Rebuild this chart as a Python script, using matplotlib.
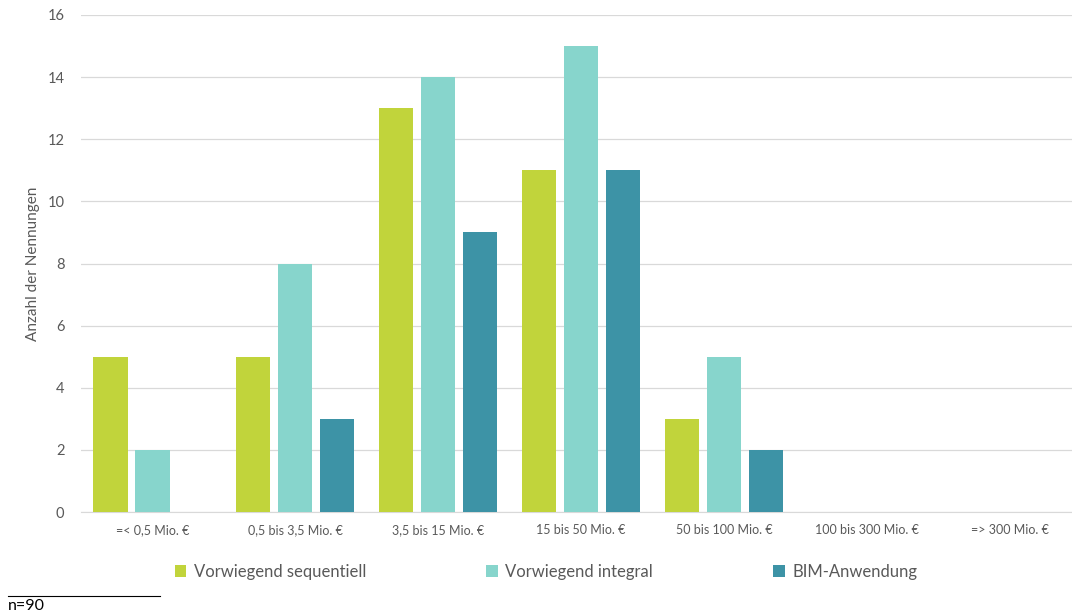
import numpy as np
import matplotlib.pyplot as plt
from matplotlib.lines import Line2D

plt.rcParams['font.family'] = ['Lato', 'DejaVu Sans']

categories = ["=< 0,5 Mio. €", "0,5 bis 3,5 Mio. €", "3,5 bis 15 Mio. €",
              "15 bis 50 Mio. €", "50 bis 100 Mio. €", "100 bis 300 Mio. €",
              "=> 300 Mio. €"]
sequentiell = [5, 5, 13, 11, 3, 0, 0]
integral = [2, 8, 14, 15, 5, 0, 0]
bim = [0, 3, 9, 11, 2, 0, 0]
series_names = ["Vorwiegend sequentiell", "Vorwiegend integral", "BIM-Anwendung"]
colors = ["#c1d43b", "#87d5cc", "#3d93a6"]

fig = plt.figure(figsize=(10.72, 6.15), dpi=100)
ax = fig.add_axes([81/1072, 1 - 512/615, 1000/1072, (512-15)/615])

x = np.arange(len(categories))
w = 0.24
off = 0.294
bars = []
for i, vals in enumerate([sequentiell, integral, bim]):
    b = ax.bar(x + (i - 1)*off, vals, w, color=colors[i], label=series_names[i], zorder=3)
    bars.append(b)

ax.set_xlim(-0.5, len(categories) - 0.5)
ax.set_ylim(0, 16)
ax.set_yticks(range(0, 17, 2))
ax.set_xticks(x)
ax.set_xticklabels(categories, fontsize=9, color="#595959")
ax.tick_params(axis='y', labelsize=10.5, colors="#595959", length=0, pad=12)
ax.tick_params(axis='x', length=0, pad=9)
ax.grid(axis='y', color="#d9d9d9", linewidth=0.9, zorder=0)
for s in ['top', 'right', 'left']:
    ax.spines[s].set_visible(False)
ax.spines['bottom'].set_color("#d9d9d9")
ax.set_ylabel("Anzahl der Nennungen", fontsize=11, color="#595959", labelpad=5)

leg = fig.legend(handles=bars, labels=series_names, loc='center', bbox_to_anchor=(546/1072, 1 - 572/615),
                 ncol=3, frameon=False, fontsize=12, handlelength=0.7, handleheight=0.7,
                 handletextpad=0.45, columnspacing=7.2, labelcolor="#595959")

fig.add_artist(Line2D([8/1072, 160/1072], [1 - 596/615, 1 - 596/615], color="black", linewidth=0.8))
fig.text(8/1072, 1 - 606/615, "n=90", fontsize=11.5, va='center', ha='left', color="black")

fig.savefig("out.png", dpi=100)
